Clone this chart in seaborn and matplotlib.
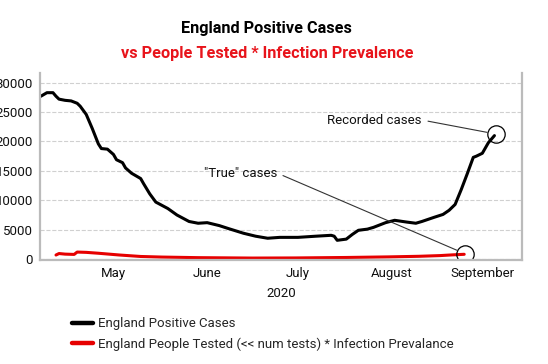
import pandas as pd
import matplotlib.pyplot as plt
import seaborn as sns

# Datos
pos_dates = ['2020-04-22', '2020-04-23', '2020-04-24', '2020-04-26', '2020-04-27', '2020-04-28',
             '2020-04-30', '2020-05-02', '2020-05-04', '2020-05-05', '2020-05-07', '2020-05-09',
             '2020-05-11', '2020-05-12', '2020-05-14', '2020-05-16', '2020-05-17', '2020-05-19',
             '2020-05-20', '2020-05-22', '2020-05-25', '2020-05-26', '2020-05-28', '2020-05-30',
             '2020-06-03', '2020-06-06', '2020-06-10', '2020-06-13', '2020-06-16', '2020-06-20',
             '2020-06-23', '2020-06-28', '2020-07-02', '2020-07-06', '2020-07-10', '2020-07-16',
             '2020-07-22', '2020-07-27', '2020-07-28', '2020-07-29', '2020-08-01', '2020-08-03',
             '2020-08-05', '2020-08-08', '2020-08-10', '2020-08-14', '2020-08-17', '2020-08-21',
             '2020-08-24', '2020-08-26', '2020-08-30', '2020-09-02', '2020-09-04', '2020-09-06',
             '2020-09-08', '2020-09-10', '2020-09-12', '2020-09-13', '2020-09-15', '2020-09-17',
             '2020-09-19']
pos_cases = [27700, 28000, 28300, 28300, 27700, 27200,
             27000, 26900, 26500, 26000, 24600, 22200,
             19600, 18800, 18700, 17800, 16900, 16400,
             15500, 14600, 13700, 12800, 11100, 9700,
             8600, 7500, 6400, 6100, 6200, 5700,
             5200, 4400, 3900, 3550, 3700, 3700,
             3900, 4050, 3900, 3200, 3400, 4200,
             4900, 5100, 5400, 6200, 6600, 6300,
             6100, 6400, 7100, 7600, 8300, 9300,
             11800, 14500, 17300, 17500, 18000, 19800,
             21000]

true_dates = ['2020-04-27', '2020-04-28', '2020-04-30', '2020-05-03', '2020-05-04', '2020-05-07',
              '2020-05-11', '2020-05-18', '2020-05-25', '2020-06-01', '2020-06-13', '2020-07-01',
              '2020-07-15', '2020-08-01', '2020-08-15', '2020-08-25', '2020-09-01', '2020-09-05',
              '2020-09-09']
true_cases = [700, 950, 850, 800, 1200, 1150,
              1000, 700, 450, 350, 250, 180,
              200, 280, 380, 480, 600, 720,
              820]

month_labels = ['May', 'June', 'July', 'August', 'September']
label_pos = ['2020-05-16', '2020-06-16', '2020-07-16', '2020-08-16', '2020-09-15']
month_ticks = ['2020-05-01', '2020-06-01', '2020-07-01', '2020-08-01', '2020-09-01']

sns.set_style('white')
plt.rcParams['font.family'] = ['Roboto', 'DejaVu Sans']

df_pos = pd.DataFrame({'fecha': pd.to_datetime(pos_dates), 'casos': pos_cases})
df_true = pd.DataFrame({'fecha': pd.to_datetime(true_dates), 'casos': true_cases})

fig = plt.figure(figsize=(5.48, 3.64), dpi=100)
ax = fig.add_axes([0.073, 0.2857, 0.8796, 0.5138])

sns.lineplot(data=df_pos, x='fecha', y='casos', color='black', lw=2.2, ax=ax,
             label='England Positive Cases')
sns.lineplot(data=df_true, x='fecha', y='casos', color='#e60000', lw=2.2, ax=ax,
             label='England People Tested (<< num tests) * Infection Prevalance')

ax.set_xlim(pd.Timestamp('2020-04-21 17:00'), pd.Timestamp('2020-09-28 03:00'))
ax.set_ylim(-150, 31650)
ax.set_yticks([0, 5000, 10000, 15000, 20000, 25000, 30000])
ax.yaxis.grid(True, linestyle='--', color='#d0d0d0', lw=0.8)
ax.xaxis.grid(False)

# Ticks: marcas al inicio de mes, etiquetas a mitad de mes
ax.set_xticks(pd.to_datetime(month_ticks))
ax.set_xticklabels([])
ax.set_xticks(pd.to_datetime(label_pos), minor=True)
ax.set_xticklabels(month_labels, minor=True)
ax.tick_params(axis='x', which='major', length=3, color='#bbbbbb', width=1)
ax.tick_params(axis='x', which='minor', length=0, pad=5, labelsize=9.5, colors='#111111')
ax.tick_params(axis='y', length=0, pad=5, labelsize=9.5, colors='#111111')
ax.set_xlabel('2020', fontsize=9.5, labelpad=5, color='#111111')
ax.set_ylabel('')

for side in ['left', 'bottom', 'right']:
    ax.spines[side].set_color('#bbbbbb')
    ax.spines[side].set_linewidth(1.6)
ax.spines['top'].set_visible(False)

# Circulos y anotaciones
rec_pt = (pd.Timestamp('2020-09-19 12:00'), 21270)
true_pt = (pd.Timestamp('2020-09-09 08:00'), 900)
ax.plot([rec_pt[0]], [rec_pt[1]], marker='o', ms=12.5, mfc='none', mec='black', mew=0.9)
ax.plot([true_pt[0]], [true_pt[1]], marker='o', ms=12.5, mfc='none', mec='black', mew=0.9)
ax.annotate('Recorded cases', xy=rec_pt, xytext=(pd.Timestamp('2020-08-10 10:00'), 23650),
            ha='center', va='center', fontsize=9.5, color='#111111',
            arrowprops=dict(arrowstyle='-', color='#333333', lw=0.8, relpos=(1, 0.5),
                            shrinkA=2, shrinkB=6.5))
ax.annotate('"True" cases', xy=true_pt, xytext=(pd.Timestamp('2020-06-27'), 14630),
            ha='center', va='center', fontsize=9.5, color='#111111',
            arrowprops=dict(arrowstyle='-', color='#333333', lw=0.8, relpos=(1, 0.5),
                            shrinkA=2, shrinkB=6.5))

# Titulo en dos lineas
fig.text(0.487, 0.923, 'England Positive Cases', ha='center', va='center',
         fontsize=11.7, fontweight='bold', color='black')
fig.text(0.487, 0.852, 'vs People Tested * Infection Prevalence', ha='center', va='center',
         fontsize=11.7, fontweight='bold', color='#e8141b')

# Leyenda abajo a la izquierda
handles, labels = ax.get_legend_handles_labels()
ax.get_legend().remove()
leg = fig.legend(handles, labels, loc='upper left', bbox_to_anchor=(0.131, 0.128),
                 frameon=False, fontsize=9.5, borderpad=0, borderaxespad=0,
                 handlelength=1.6, handletextpad=0.35, labelspacing=0.55)
for line in leg.get_lines():
    line.set_linewidth(3.2)

plt.savefig('out.png', dpi=100)
plt.close()
